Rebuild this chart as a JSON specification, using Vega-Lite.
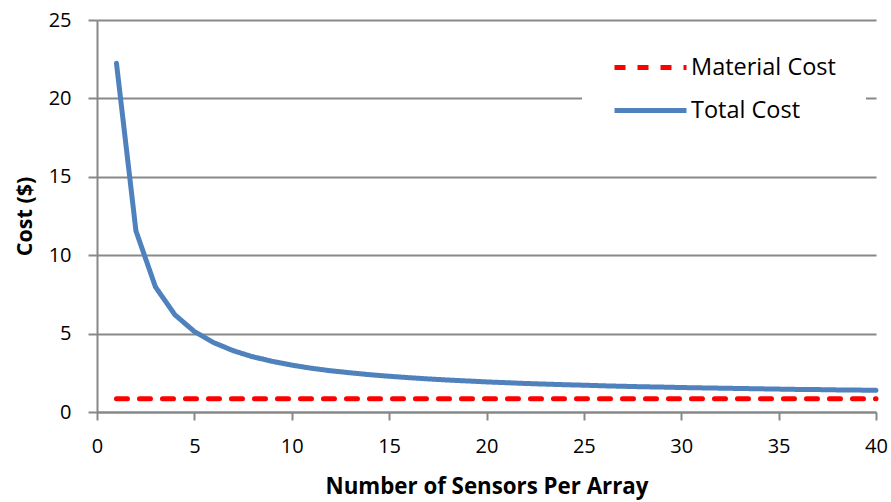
{
  "$schema": "https://vega.github.io/schema/vega-lite/v6.json",
  "width": 779,
  "height": 392,
  "autosize": "none",
  "padding": {"left": 97, "top": 20, "right": 15, "bottom": 90},
  "background": "white",
  "config": {
    "view": {"stroke": null},
    "font": "Open Sans"
  },
  "data": {
    "values": [
      {"n": 1, "series": "Material Cost", "cost": 0.85},
      {"n": 2, "series": "Material Cost", "cost": 0.85},
      {"n": 3, "series": "Material Cost", "cost": 0.85},
      {"n": 4, "series": "Material Cost", "cost": 0.85},
      {"n": 5, "series": "Material Cost", "cost": 0.85},
      {"n": 6, "series": "Material Cost", "cost": 0.85},
      {"n": 7, "series": "Material Cost", "cost": 0.85},
      {"n": 8, "series": "Material Cost", "cost": 0.85},
      {"n": 9, "series": "Material Cost", "cost": 0.85},
      {"n": 10, "series": "Material Cost", "cost": 0.85},
      {"n": 11, "series": "Material Cost", "cost": 0.85},
      {"n": 12, "series": "Material Cost", "cost": 0.85},
      {"n": 13, "series": "Material Cost", "cost": 0.85},
      {"n": 14, "series": "Material Cost", "cost": 0.85},
      {"n": 15, "series": "Material Cost", "cost": 0.85},
      {"n": 16, "series": "Material Cost", "cost": 0.85},
      {"n": 17, "series": "Material Cost", "cost": 0.85},
      {"n": 18, "series": "Material Cost", "cost": 0.85},
      {"n": 19, "series": "Material Cost", "cost": 0.85},
      {"n": 20, "series": "Material Cost", "cost": 0.85},
      {"n": 21, "series": "Material Cost", "cost": 0.85},
      {"n": 22, "series": "Material Cost", "cost": 0.85},
      {"n": 23, "series": "Material Cost", "cost": 0.85},
      {"n": 24, "series": "Material Cost", "cost": 0.85},
      {"n": 25, "series": "Material Cost", "cost": 0.85},
      {"n": 26, "series": "Material Cost", "cost": 0.85},
      {"n": 27, "series": "Material Cost", "cost": 0.85},
      {"n": 28, "series": "Material Cost", "cost": 0.85},
      {"n": 29, "series": "Material Cost", "cost": 0.85},
      {"n": 30, "series": "Material Cost", "cost": 0.85},
      {"n": 31, "series": "Material Cost", "cost": 0.85},
      {"n": 32, "series": "Material Cost", "cost": 0.85},
      {"n": 33, "series": "Material Cost", "cost": 0.85},
      {"n": 34, "series": "Material Cost", "cost": 0.85},
      {"n": 35, "series": "Material Cost", "cost": 0.85},
      {"n": 36, "series": "Material Cost", "cost": 0.85},
      {"n": 37, "series": "Material Cost", "cost": 0.85},
      {"n": 38, "series": "Material Cost", "cost": 0.85},
      {"n": 39, "series": "Material Cost", "cost": 0.85},
      {"n": 40, "series": "Material Cost", "cost": 0.85},
      {"n": 1, "series": "Total Cost", "cost": 22.24},
      {"n": 2, "series": "Total Cost", "cost": 11.55},
      {"n": 3, "series": "Total Cost", "cost": 7.98},
      {"n": 4, "series": "Total Cost", "cost": 6.2},
      {"n": 5, "series": "Total Cost", "cost": 5.13},
      {"n": 6, "series": "Total Cost", "cost": 4.42},
      {"n": 7, "series": "Total Cost", "cost": 3.91},
      {"n": 8, "series": "Total Cost", "cost": 3.52},
      {"n": 9, "series": "Total Cost", "cost": 3.23},
      {"n": 10, "series": "Total Cost", "cost": 2.99},
      {"n": 11, "series": "Total Cost", "cost": 2.79},
      {"n": 12, "series": "Total Cost", "cost": 2.63},
      {"n": 13, "series": "Total Cost", "cost": 2.5},
      {"n": 14, "series": "Total Cost", "cost": 2.38},
      {"n": 15, "series": "Total Cost", "cost": 2.28},
      {"n": 16, "series": "Total Cost", "cost": 2.19},
      {"n": 17, "series": "Total Cost", "cost": 2.11},
      {"n": 18, "series": "Total Cost", "cost": 2.04},
      {"n": 19, "series": "Total Cost", "cost": 1.98},
      {"n": 20, "series": "Total Cost", "cost": 1.92},
      {"n": 21, "series": "Total Cost", "cost": 1.87},
      {"n": 22, "series": "Total Cost", "cost": 1.82},
      {"n": 23, "series": "Total Cost", "cost": 1.78},
      {"n": 24, "series": "Total Cost", "cost": 1.74},
      {"n": 25, "series": "Total Cost", "cost": 1.71},
      {"n": 26, "series": "Total Cost", "cost": 1.67},
      {"n": 27, "series": "Total Cost", "cost": 1.64},
      {"n": 28, "series": "Total Cost", "cost": 1.61},
      {"n": 29, "series": "Total Cost", "cost": 1.59},
      {"n": 30, "series": "Total Cost", "cost": 1.56},
      {"n": 31, "series": "Total Cost", "cost": 1.54},
      {"n": 32, "series": "Total Cost", "cost": 1.52},
      {"n": 33, "series": "Total Cost", "cost": 1.5},
      {"n": 34, "series": "Total Cost", "cost": 1.48},
      {"n": 35, "series": "Total Cost", "cost": 1.46},
      {"n": 36, "series": "Total Cost", "cost": 1.44},
      {"n": 37, "series": "Total Cost", "cost": 1.43},
      {"n": 38, "series": "Total Cost", "cost": 1.41},
      {"n": 39, "series": "Total Cost", "cost": 1.4},
      {"n": 40, "series": "Total Cost", "cost": 1.38}
    ]
  },
  "mark": {"type": "line", "strokeWidth": 5, "strokeCap": "round", "strokeJoin": "round"},
  "encoding": {
    "x": {
      "field": "n",
      "type": "quantitative",
      "scale": {"domain": [0, 40], "nice": false},
      "axis": {
        "title": "Number of Sensors Per Array",
        "titleFont": "Open Sans",
        "titleFontSize": 22.3,
        "titleFontWeight": "bold",
        "titleColor": "black",
        "titlePadding": 19,
        "values": [0, 5, 10, 15, 20, 25, 30, 35, 40],
        "labelFont": "Open Sans",
        "labelFontSize": 20,
        "labelColor": "black",
        "labelPadding": 16,
        "labelFlush": false,
        "tickSize": 8,
        "tickColor": "#888888",
        "tickWidth": 2,
        "domainColor": "#888888",
        "domainWidth": 2,
        "grid": false
      }
    },
    "y": {
      "field": "cost",
      "type": "quantitative",
      "scale": {"domain": [0, 25], "nice": false},
      "axis": {
        "title": "Cost ($)",
        "titleFont": "Open Sans",
        "titleFontSize": 21.5,
        "titleFontWeight": "bold",
        "titleColor": "black",
        "titlePadding": 12,
        "values": [0, 5, 10, 15, 20, 25],
        "labelFont": "Open Sans",
        "labelFontSize": 20,
        "labelColor": "black",
        "labelPadding": 17,
        "labelFlush": false,
        "tickSize": 9,
        "tickColor": "#888888",
        "tickWidth": 2,
        "domainColor": "#888888",
        "domainWidth": 2,
        "grid": true,
        "gridColor": "#888888",
        "gridWidth": 2
      }
    },
    "color": {
      "field": "series",
      "type": "nominal",
      "scale": {"domain": ["Material Cost", "Total Cost"], "range": ["#FF0000", "#4F81BD"]},
      "legend": {
        "title": null,
        "orient": "none",
        "legendX": 485,
        "legendY": 5,
        "padding": 30,
        "fillColor": "white",
        "symbolType": "M-1,0H6.2",
        "symbolSize": 400,
        "symbolStrokeWidth": 5,
        "labelFont": "Open Sans",
        "labelFontSize": 23.5,
        "labelColor": "black",
        "labelOffset": 54,
        "rowPadding": 19
      }
    },
    "strokeDash": {
      "field": "series",
      "type": "nominal",
      "scale": {"domain": ["Material Cost", "Total Cost"], "range": [[11, 12], [1, 0]]},
      "legend": null
    }
  }
}
